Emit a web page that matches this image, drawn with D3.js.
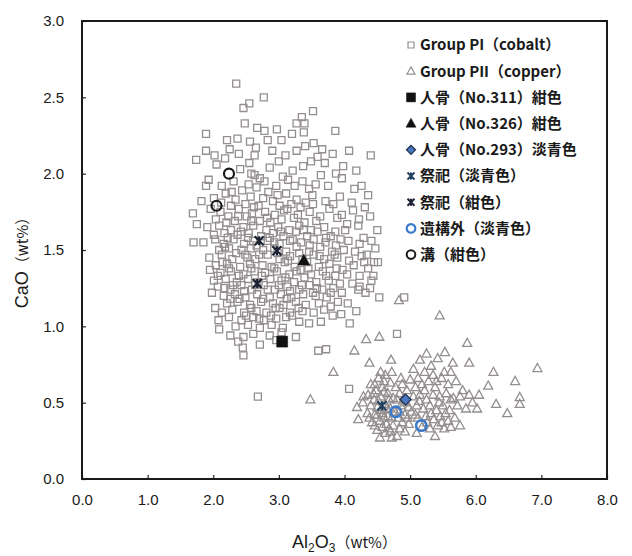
<!DOCTYPE html>
<html><head><meta charset="utf-8">
<script src="https://cdn.jsdelivr.net/npm/d3@7"></script>
<style>html,body{margin:0;padding:0;background:#fff;}</style>
</head><body>
<svg id="chart" width="632" height="556"></svg>
<script>
// ---------- DATA ----------
const xTicks = [0,1,2,3,4,5,6,7,8];
const yTicks = [0,0.5,1.0,1.5,2.0,2.5,3.0];
const legendLabels = ["Group PI（cobalt）","Group PII（copper）","人骨（No.311）紺色","人骨（No.326）紺色","人骨（No.293）淡青色","祭祀（淡青色）","祭祀（紺色）","遺構外（淡青色）","溝（紺色）"];

// Group PI (cobalt): [Al2O3, CaO]
const groupPI = [
[2.35,2.59],[2.77,2.50],[2.55,2.46],[2.46,2.43],[3.52,2.41],[3.35,2.37],[2.48,2.33],[3.27,2.33],[3.39,2.33],[2.67,2.30],[2.78,2.28],[2.97,2.29],[3.38,2.27],[3.86,2.28],[1.89,2.26],[2.21,2.22],[2.37,2.23],[3.04,2.22],[2.56,2.21],[3.53,2.20],[3.40,2.18],[2.65,2.17],[2.25,2.16],[1.89,2.15],[3.27,2.15],[4.07,2.15],[3.82,2.13],[4.40,2.12],[3.59,2.11],[2.02,2.12],[2.39,2.13],[2.63,2.12],[2.18,2.10],[1.74,2.09],[2.05,2.06],[2.55,2.07],[3.70,2.07],[3.37,2.05],[3.49,2.08],
[3.87,2.00],[3.96,1.97],[1.93,1.96],[1.89,1.92],[2.13,1.92],[3.75,1.92],[4.26,1.92],[2.41,2.03],[2.63,1.99],[2.86,2.04],[3.06,1.98],[3.21,2.02],[2.31,1.95],[2.54,1.93],[2.71,1.97],[2.96,1.92],[3.14,1.96],[3.36,1.95],[3.56,1.93],[2.44,1.89],[2.66,1.91],[2.84,1.88],[3.46,1.90],[3.64,1.99],
[1.82,1.82],[4.36,1.86],[2.01,1.84],[2.19,1.87],[2.34,1.83],[2.57,1.85],[2.76,1.84],[2.91,1.82],[3.11,1.87],[3.27,1.83],[3.51,1.86],[3.71,1.82],[3.93,1.85],[4.11,1.81],[2.27,1.79],[2.49,1.80],[2.69,1.79],[3.01,1.79],[3.19,1.80],[3.41,1.81],[3.83,1.80],
[1.69,1.74],[1.75,1.67],[4.31,1.78],[4.39,1.72],[1.96,1.77],[2.11,1.75],[2.23,1.72],[2.39,1.77],[2.59,1.74],[2.79,1.75],[2.94,1.73],[3.13,1.77],[3.29,1.73],[3.47,1.75],[3.63,1.72],[3.77,1.77],[3.96,1.73],[4.13,1.76],[2.04,1.70],[2.33,1.69],[2.51,1.72],[2.71,1.69],[2.87,1.68],[3.04,1.70],[3.23,1.71],[3.39,1.68],[3.57,1.69],[3.89,1.71],[4.04,1.67],
[1.91,1.65],[2.09,1.66],[2.27,1.63],[2.46,1.65],[2.61,1.66],[2.81,1.63],[2.99,1.65],[3.16,1.63],[3.31,1.66],[3.49,1.63],[3.69,1.65],[3.86,1.62],[4.01,1.63],[4.21,1.66],[4.50,1.63],[2.01,1.60],[2.17,1.61],[2.37,1.60],[2.54,1.61],[2.73,1.59],[2.91,1.61],[3.07,1.59],[3.26,1.62],[3.43,1.59],[3.59,1.62],[3.79,1.59],[3.94,1.57],[4.29,1.58],
[1.70,1.55],[1.85,1.55],[2.03,1.57],[2.16,1.54],[2.31,1.57],[2.47,1.54],[2.61,1.56],[2.83,1.56],[3.01,1.54],[3.17,1.56],[3.34,1.55],[3.53,1.57],[3.71,1.55],[3.87,1.53],[4.06,1.56],[4.23,1.54],[4.47,1.51],[2.09,1.50],[2.24,1.51],[2.43,1.50],[2.57,1.51],[2.76,1.50],[2.93,1.51],[3.11,1.49],[3.27,1.52],[3.46,1.49],[3.63,1.52],[3.81,1.49],[3.99,1.50],[4.16,1.49],[4.34,1.47],
[1.94,1.45],[2.13,1.47],[2.29,1.44],[2.49,1.47],[2.64,1.44],[2.83,1.47],[3.01,1.44],[3.17,1.46],[3.36,1.44],[3.53,1.47],[3.69,1.44],[3.89,1.45],[4.07,1.43],[4.26,1.46],[4.45,1.42],[4.51,1.42],[2.04,1.40],[2.21,1.41],[2.41,1.39],[2.56,1.41],[2.75,1.40],[2.89,1.39],[3.09,1.42],[3.24,1.39],[3.43,1.42],[3.61,1.39],[3.77,1.41],[3.97,1.37],[4.14,1.40],[4.36,1.38],
[1.95,1.37],[2.11,1.35],[2.27,1.36],[2.46,1.34],[2.63,1.36],[2.79,1.35],[2.97,1.36],[3.16,1.34],[3.33,1.37],[3.49,1.34],[3.67,1.36],[3.86,1.33],[4.04,1.34],[4.23,1.33],[2.01,1.30],[2.19,1.31],[2.36,1.29],[2.53,1.31],[2.69,1.29],[2.87,1.31],[3.04,1.30],[3.23,1.29],[3.39,1.32],[3.57,1.29],[3.76,1.30],[3.93,1.28],[4.12,1.28],[4.41,1.30],
[1.98,1.22],[2.07,1.26],[2.26,1.24],[2.43,1.27],[2.59,1.24],[2.77,1.27],[2.94,1.24],[3.13,1.26],[3.31,1.24],[3.47,1.27],[3.66,1.24],[3.83,1.25],[4.21,1.24],[4.39,1.25],[4.23,1.26],[2.16,1.20],[2.33,1.21],[2.49,1.19],[2.67,1.21],[2.86,1.19],[3.03,1.21],[3.19,1.19],[3.37,1.21],[3.56,1.20],[3.73,1.19],[3.96,1.22],[4.53,1.19],[4.91,1.19],
[2.03,1.12],[2.21,1.15],[2.37,1.16],[2.56,1.14],[2.73,1.16],[2.91,1.15],[3.07,1.14],[3.26,1.16],[3.41,1.14],[3.61,1.15],[3.79,1.13],[2.13,1.09],[2.29,1.11],[2.47,1.09],[2.66,1.10],[2.81,1.09],[3.01,1.12],[3.17,1.09],[3.36,1.10],[3.53,1.09],[3.69,1.11],
[2.08,1.04],[2.24,1.06],[2.43,1.04],[2.61,1.06],[2.77,1.04],[2.96,1.05],[3.11,1.06],[3.31,1.03],[3.82,1.07],[3.64,1.03],[4.08,1.02],[2.34,1.00],[2.53,1.01],[2.71,0.99],[2.89,1.01],[3.06,0.99],[3.46,1.02],[4.80,0.95],
[2.09,0.98],[2.26,0.94],[2.46,0.93],[2.45,0.86],[2.46,0.81],[2.71,0.88],[3.26,0.93],[2.61,0.95],[2.86,0.94],[3.04,0.96],[2.38,0.90],[2.96,0.91],[3.60,0.84],[3.72,0.85],
[2.68,0.54],[4.07,0.59],
[2.20,1.68],[2.42,1.62],[2.58,1.69],[2.66,1.53],[2.86,1.58],[3.03,1.62],[3.21,1.57],[3.38,1.63],[2.35,1.48],[2.52,1.45],[2.70,1.47],[2.98,1.48],[3.14,1.43],[3.31,1.48],[2.24,1.38],[2.39,1.33],[2.58,1.38],[2.74,1.33],[2.93,1.38],[3.10,1.32],[3.27,1.36],[3.45,1.38],[2.30,1.27],[2.47,1.23],[2.64,1.27],[2.83,1.24],[3.00,1.27],[3.17,1.23],[3.35,1.27],[3.52,1.22],[2.40,1.18],[2.58,1.12],[2.76,1.18],[2.95,1.12],[3.12,1.18],[3.30,1.12],[2.50,1.07],[2.70,1.05],[2.88,1.07],[3.20,1.07],[2.18,1.52],[2.53,1.58],[2.93,1.55],[3.47,1.53],[3.72,1.58],[3.85,1.47],[3.62,1.46],[3.72,1.33],[3.88,1.38],[3.58,1.25],[3.79,1.22],[3.90,1.16],[2.14,1.42],[2.07,1.33],[2.17,1.25],[2.26,1.18],[2.22,1.58],[2.38,1.72],[2.62,1.78],[2.82,1.71],[3.08,1.76],[3.33,1.78],[3.52,1.80],[2.28,1.88],[2.98,1.86],[3.24,1.92],[2.12,1.81],[2.58,2.00],[2.78,1.95],[3.00,2.08],[2.90,2.15],[3.10,2.12],[2.83,2.22],[3.20,2.26],[3.66,2.16],[3.98,2.05],[4.18,2.02],[4.15,1.90],[4.22,1.70],[4.41,1.56],[4.30,1.42],[4.44,1.33],[4.32,1.22],[4.05,1.15],[4.18,1.10],[3.95,1.08]
];

// Group PII (copper)
const groupPII = [
[3.48,0.52],[3.83,0.70],[4.15,0.84],[4.33,0.915],[4.53,0.93],[4.83,1.17],[5.45,1.07],[5.87,0.89],[5.53,0.83],[4.71,0.78],[4.38,0.76],[5.90,0.76],[6.27,0.70],[6.94,0.725],[6.60,0.64],[6.19,0.61],[6.67,0.535],[6.67,0.49],[6.31,0.49],[6.48,0.43],[6.02,0.46],[5.76,0.35],[4.19,0.47],[4.21,0.39],[4.29,0.54],[5.38,0.28],
[4.40,0.62],[4.52,0.66],[4.62,0.68],[4.70,0.63],[4.48,0.58],[4.58,0.60],[4.66,0.56],[4.78,0.60],[4.88,0.62],[4.36,0.55],[4.45,0.52],[4.55,0.54],[4.74,0.53],[4.84,0.56],[4.95,0.58],[4.40,0.48],[4.50,0.47],[4.62,0.49],[4.70,0.46],[4.86,0.48],[4.98,0.47],[4.35,0.43],[4.46,0.42],[4.58,0.43],[4.66,0.41],[4.82,0.40],[4.92,0.42],[5.02,0.44],[4.42,0.37],[4.54,0.38],[4.64,0.36],[4.74,0.35],[4.88,0.37],[4.98,0.36],[4.50,0.32],[4.62,0.30],[4.70,0.31],[4.80,0.28],[4.92,0.31],[4.56,0.45],[4.76,0.44],[4.28,0.50],[4.46,0.62],[4.60,0.64],
[5.05,0.72],[5.15,0.78],[5.25,0.82],[5.12,0.66],[5.22,0.70],[5.32,0.74],[5.42,0.79],[5.52,0.70],[5.65,0.76],[5.08,0.60],[5.18,0.62],[5.28,0.64],[5.38,0.60],[5.48,0.66],[5.58,0.62],[5.70,0.64],[5.05,0.54],[5.15,0.55],[5.25,0.52],[5.35,0.55],[5.45,0.54],[5.55,0.56],[5.66,0.53],[5.80,0.58],[5.90,0.55],[5.10,0.48],[5.20,0.46],[5.30,0.48],[5.40,0.45],[5.50,0.48],[5.60,0.45],[5.72,0.48],[5.85,0.46],[5.12,0.40],[5.24,0.41],[5.36,0.39],[5.46,0.41],[5.58,0.38],[5.68,0.40],[5.18,0.34],[5.30,0.33],[5.42,0.35],[5.52,0.33],[5.00,0.65],[5.95,0.50],[6.05,0.55],[5.35,0.68],[5.62,0.70],
[4.44,0.56],[4.52,0.51],[4.60,0.57],[4.68,0.52],[4.80,0.52],[4.90,0.52],[4.38,0.40],[4.50,0.42],[4.60,0.40],[4.72,0.40],[4.84,0.44],[4.96,0.40],[4.46,0.35],[4.58,0.34],[4.68,0.33],[4.84,0.33],[4.54,0.27],[4.72,0.27],[4.64,0.46],[4.92,0.50],[5.08,0.42],[5.22,0.58],[5.32,0.43],[5.44,0.50],[5.54,0.43],[5.62,0.52],[5.76,0.54],[5.14,0.51],[5.40,0.64],[5.26,0.37],[5.48,0.37],[5.62,0.34],[4.86,0.66],[4.72,0.70],[4.55,0.70],[5.10,0.30]
];

const bone311 = [[3.05,0.90]];           // 人骨(No.311)紺色
const bone326 = [[3.38,1.43]];           // 人骨(No.326)紺色
const bone293 = [[4.93,0.52]];           // 人骨(No.293)淡青色
const ritualLight = [[4.57,0.48]];       // 祭祀(淡青色)
const ritualNavy = [[2.70,1.56],[2.97,1.495],[2.67,1.28]]; // 祭祀(紺色)
const outsideLight = [[4.78,0.44],[5.17,0.35]]; // 遺構外(淡青色)
const ditchNavy = [[2.24,2.00],[2.05,1.79]];    // 溝(紺色)

// ---------- CHART ----------
const svg = d3.select("#chart");
svg.append("rect").attr("width",632).attr("height",556).attr("fill","#ffffff");

const x = d3.scaleLinear().domain([0,8]).range([82,607]);
const y = d3.scaleLinear().domain([0,3]).range([479,21]);

const grey = "#948e8e";

function squarePath(s){ return `M${-s/2},${-s/2}h${s}v${s}h${-s}Z`; }
function triPath(s){ const h=s*0.9; return `M0,${-h*0.6}L${s/2},${h*0.4}L${-s/2},${h*0.4}Z`; }
function diamondPath(s){ return `M0,${-s/2}L${s/2},0L0,${s/2}L${-s/2},0Z`; }
function starPath(s){ const a=s/2; return `M${-a},${-a}L${a},${a}M${-a},${a}L${a},${-a}M0,${-a}L0,${a}`; }

const marks = svg.append("g");

marks.selectAll("path.pi").data(groupPI).join("path").attr("class","pi")
  .attr("transform",d=>`translate(${x(d[0])},${y(d[1])})`)
  .attr("d",squarePath(7)).attr("fill","none").attr("stroke",grey).attr("stroke-width",1.3);

marks.selectAll("path.pii").data(groupPII).join("path").attr("class","pii")
  .attr("transform",d=>`translate(${x(d[0])},${y(d[1])})`)
  .attr("d",triPath(9)).attr("fill","none").attr("stroke",grey).attr("stroke-width",1.3);

function drawSpecial(data, d, fill, stroke, sw){
  marks.append("g").selectAll("path").data(data).join("path")
    .attr("transform",p=>`translate(${x(p[0])},${y(p[1])})`)
    .attr("d",d).attr("fill",fill).attr("stroke",stroke).attr("stroke-width",sw);
}
drawSpecial(bone311, squarePath(11), "#111", "#111", 0.5);
drawSpecial(bone326, triPath(12), "#111", "#111", 0.5);
drawSpecial(bone293, diamondPath(11), "#4a78c0", "#1e2c48", 1.3);
drawSpecial(ritualLight, starPath(9), "none", "#23415f", 2.2);
drawSpecial(ritualNavy, starPath(9), "none", "#1b2233", 2.2);
marks.append("g").selectAll("circle").data(outsideLight).join("circle")
  .attr("cx",d=>x(d[0])).attr("cy",d=>y(d[1])).attr("r",5.2)
  .attr("fill","none").attr("stroke","#3b7bcb").attr("stroke-width",2.6);
marks.append("g").selectAll("circle").data(ditchNavy).join("circle")
  .attr("cx",d=>x(d[0])).attr("cy",d=>y(d[1])).attr("r",5)
  .attr("fill","none").attr("stroke","#1a1a1a").attr("stroke-width",2.2);

// axes
const tickFont = "'Liberation Sans', Arial, sans-serif";
const xAxis = svg.append("g").attr("transform","translate(0,479)")
  .call(d3.axisBottom(x).tickValues(xTicks).tickFormat(d3.format(".1f")).tickSize(-4).tickPadding(15));
const yAxis = svg.append("g").attr("transform","translate(82,0)")
  .call(d3.axisLeft(y).tickValues(yTicks).tickFormat(d3.format(".1f")).tickSize(-4).tickPadding(18));
[xAxis,yAxis].forEach(a=>{
  a.select(".domain").remove();
  a.selectAll(".tick line").attr("stroke","#222").attr("stroke-width",1.2);
  a.selectAll(".tick text").attr("font-family",tickFont).attr("font-size",15).attr("fill","#1a1a1a");
});

// frame
svg.append("rect").attr("x",x(0)).attr("y",y(3)).attr("width",x(8)-x(0)).attr("height",y(0)-y(3))
  .attr("fill","none").attr("stroke","#1a1a1a").attr("stroke-width",2);

// axis titles
const xt = svg.append("text").attr("x",x(4)).attr("y",548).attr("text-anchor","middle")
  .attr("font-family",tickFont).attr("fill","#1a1a1a");
xt.append("tspan").attr("font-size",18).text("Al");
xt.append("tspan").attr("font-size",12).attr("dy",4).text("2");
xt.append("tspan").attr("font-size",18).attr("dy",-4).text("O");
xt.append("tspan").attr("font-size",12).attr("dy",4).text("3");
xt.append("tspan").attr("font-size",15).attr("dy",-4).attr("font-family","'Noto Sans CJK JP'").text("（wt%）");

const yt = svg.append("text").attr("transform",`translate(28,${259}) rotate(-90)`).attr("text-anchor","middle")
  .attr("font-family",tickFont).attr("fill","#1a1a1a");
yt.append("tspan").attr("font-size",18).text("CaO");
yt.append("tspan").attr("font-size",15).attr("font-family","'Noto Sans CJK JP'").text("（wt%）");

// legend
const legendMarkers = [
  {d:squarePath(6), fill:"none", stroke:grey, sw:1.2},
  {d:triPath(8), fill:"none", stroke:grey, sw:1.2},
  {d:squarePath(9), fill:"#111", stroke:"#111", sw:0.5},
  {d:triPath(10), fill:"#111", stroke:"#111", sw:0.5},
  {d:diamondPath(9), fill:"#4a78c0", stroke:"#1e2c48", sw:1.2},
  {d:starPath(7), fill:"none", stroke:"#23415f", sw:2},
  {d:starPath(7), fill:"none", stroke:"#1b2233", sw:2},
  {circle:true, stroke:"#3b7bcb", sw:2.2},
  {circle:true, stroke:"#1a1a1a", sw:2}
];
const lg = svg.append("g");
const items = lg.selectAll("g").data(legendLabels).join("g")
  .attr("transform",(d,i)=>`translate(411,${45 + i*26.2})`);
items.each(function(d,i){
  const m = legendMarkers[i], g = d3.select(this);
  if(m.circle) g.append("circle").attr("r",4.3).attr("fill","none").attr("stroke",m.stroke).attr("stroke-width",m.sw);
  else g.append("path").attr("d",m.d).attr("fill",m.fill).attr("stroke",m.stroke).attr("stroke-width",m.sw);
  g.append("text").attr("x",9).attr("dy","0.36em").attr("font-family","'Noto Sans CJK JP', sans-serif")
    .attr("font-weight","bold").attr("font-size",15).attr("fill","#1a1a1a").text(d);
});
</script>
</body></html>
